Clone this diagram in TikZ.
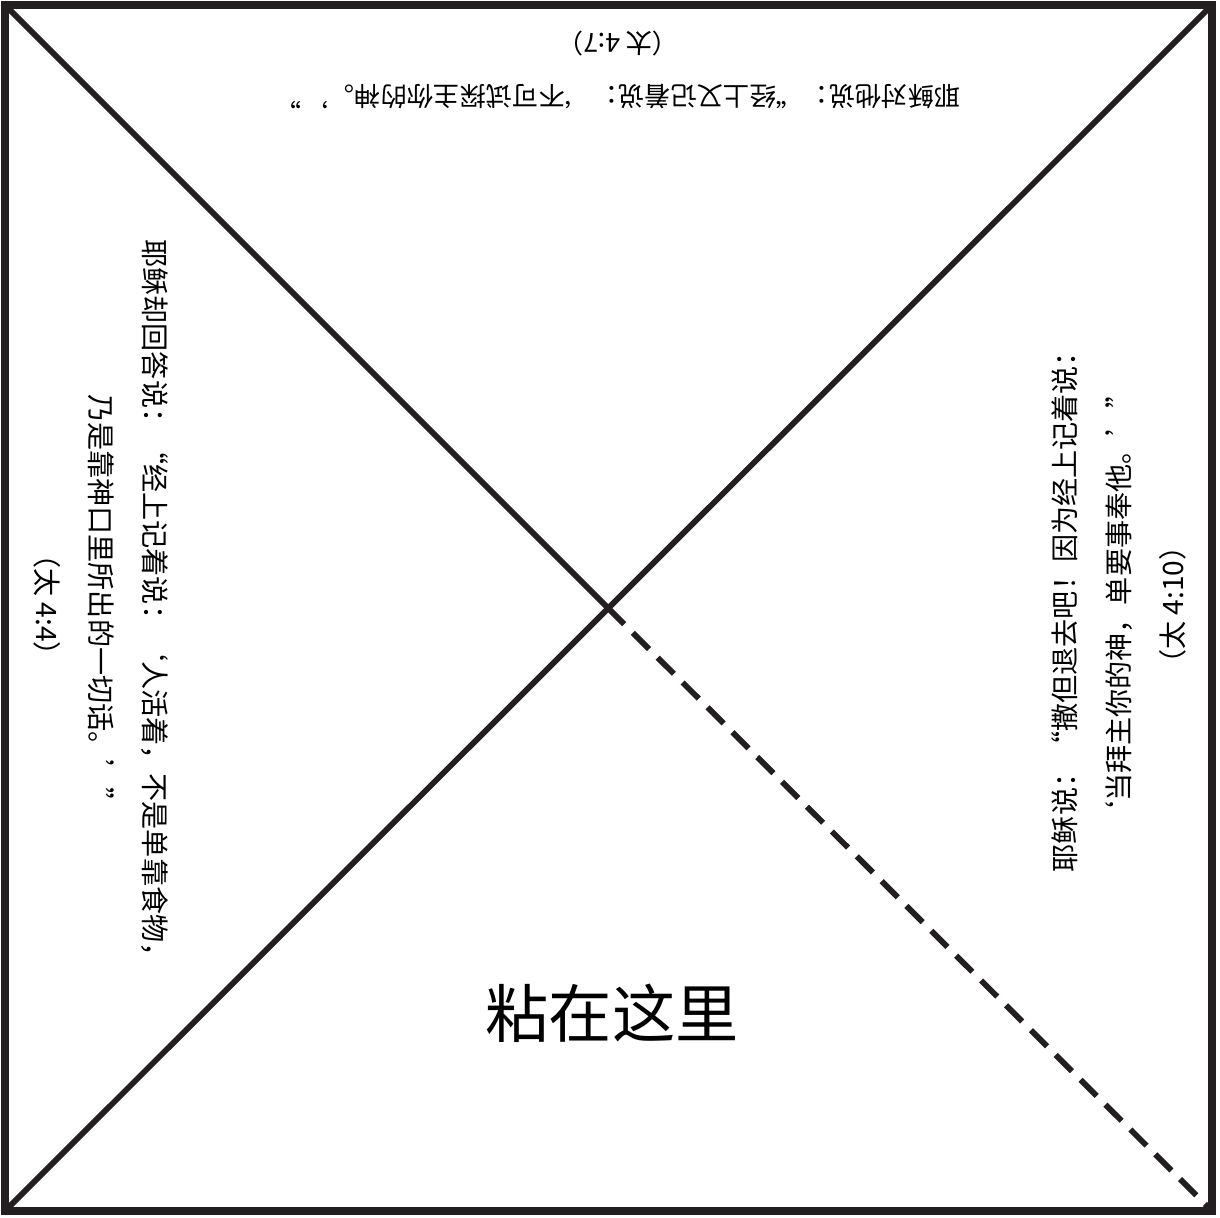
\documentclass[tikz,border=0pt]{standalone}
\usepackage{fontspec}
\newfontfamily\cjk{Noto Sans CJK SC}
\usetikzlibrary{calc}
\definecolor{ink}{HTML}{231F20}

\begin{document}
\begin{tikzpicture}[x=0.2mm, y=-0.2mm,
    fold/.style={line width=3.3pt, color=ink},
    verse/.style={font=\cjk\fontsize{16}{30.5}\selectfont, align=center, inner sep=0pt}]
			%%%%% START %%%%%
			
			\useasboundingbox (0, 0) rectangle (1220, 1217);
			\draw[line width=4.5pt, color=ink] (5, 5) rectangle (1212, 1211);
			
			\coordinate (tl) at (9, 9);
			\coordinate (tr) at (1208, 9);
			\coordinate (bl) at (9, 1207);
			\coordinate (br) at (1208, 1207);
			\coordinate (mid) at (608, 608);
			
			\draw[fold] (tl) -- (mid);
			\draw[fold, dash pattern=on 13pt off 7pt] (mid) -- (br);
			\draw[fold] (tr) -- (bl);
			
			\node[verse, font=\cjk\fontsize{15}{30.5}\selectfont, rotate=180] (top) at (618, 70)
			  {耶稣对他说：“经上又记着说：‘不可试探主你的神。’”\\（太 4:7）};
			\node[verse, rotate=-90] (left) at (101, 605)
			  {耶稣却回答说：“经上记着说：‘人活着，不是单靠食物，\\乃是靠神口里所出的一切话。’”\\（太 4:4）};
			\node[verse, rotate=90] (right) at (1119, 605)
			  {耶稣说：“撒但退去吧！因为经上记着说：\\‘当拜主你的神，单要事奉他。’”\\（太 4:10）};
			\node[font=\cjk\fontsize{36}{40}\selectfont, inner sep=0pt] (paste) at (612, 1013) {粘在这里};
			
			%%%%% END %%%%%
\end{tikzpicture}
\end{document}
